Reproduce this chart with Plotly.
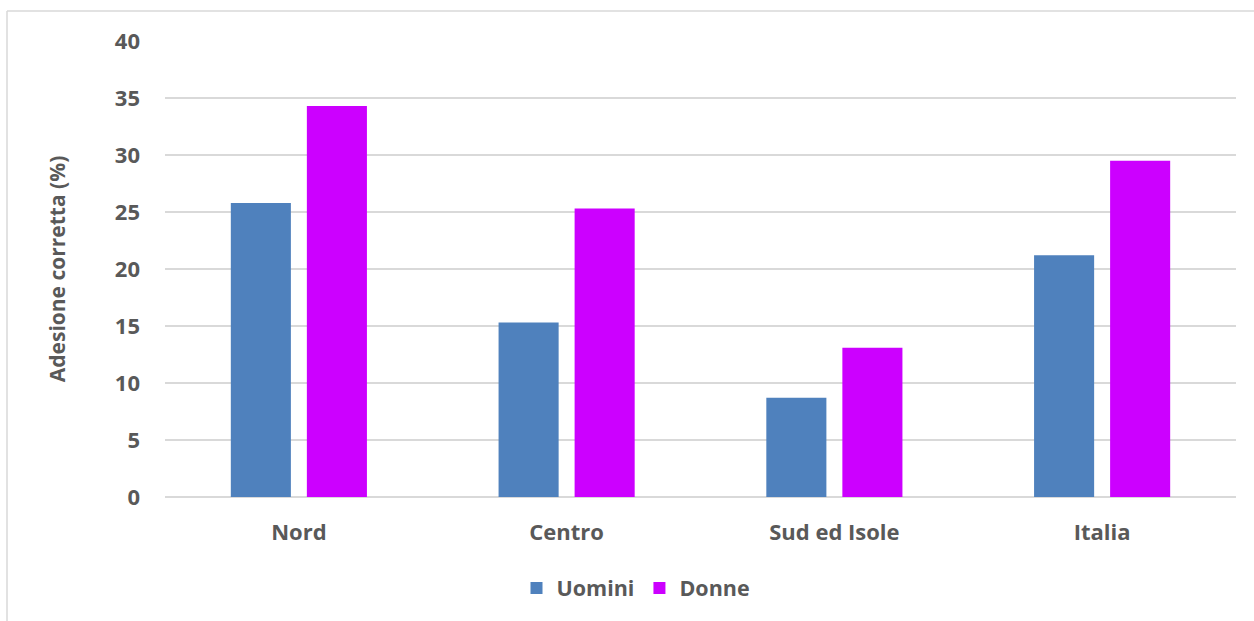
import plotly.graph_objects as go

regions = ["Nord", "Centro", "Sud ed Isole", "Italia"]
uomini = [25.8, 15.3, 8.7, 21.2]
donne = [34.3, 25.3, 13.1, 29.5]
y_ticks = [0, 5, 10, 15, 20, 25, 30, 35, 40]

W, H = 1254, 621
L, R, T, B = 165, 18, 41, 124
pw, ph = W - L - R, H - T - B

def px_x(x):
    return (x - L) / pw

def px_y(y):
    return (H - B - y) / ph

text_color = "#595959"
font_family = "Open Sans, Liberation Sans, Arial, sans-serif"

fig = go.Figure()
fig.add_trace(go.Bar(name="Uomini", x=regions, y=uomini, marker_color="#4F81BD",
                     marker_line_width=0))
fig.add_trace(go.Bar(name="Donne", x=regions, y=donne, marker_color="#CC00FF",
                     marker_line_width=0))

fig.update_layout(
    width=W, height=H,
    margin=dict(l=L, r=R, t=T, b=B, autoexpand=False),
    paper_bgcolor="white", plot_bgcolor="white",
    barmode="group", bargap=0.432, bargroupgap=0.21,
    font=dict(family=font_family, color=text_color, size=18),
    showlegend=True,
    legend=dict(orientation="h", x=px_x(636), xanchor="center", y=px_y(588), yanchor="middle",
                font=dict(size=21.5, family=font_family, color=text_color, weight="bold"),
                itemwidth=30, traceorder="normal"),
    xaxis=dict(showgrid=False, showline=False, ticks="", ticklabelstandoff=20,
               tickfont=dict(size=22, family=font_family, color=text_color, weight="bold")),
    yaxis=dict(range=[0, 40], tickvals=y_ticks, showgrid=True, gridcolor="#D9D9D9",
               gridwidth=1.5, zeroline=True, zerolinecolor="#D9D9D9", zerolinewidth=1.5,
               showline=False, ticks="", ticklabelstandoff=24,
               tickfont=dict(size=22, family=font_family, color=text_color, weight="bold"),
               title=dict(text="Adesione corretta (%)", standoff=43,
                          font=dict(size=21, family=font_family, color=text_color, weight="bold"))),
)

# outer chart frame (top and left edges)
fig.add_shape(type="line", xref="paper", yref="paper",
              x0=px_x(7), x1=px_x(W + 5), y0=px_y(11), y1=px_y(11),
              line=dict(color="#D9D9D9", width=1.5))
fig.add_shape(type="line", xref="paper", yref="paper",
              x0=px_x(7), x1=px_x(7), y0=px_y(11), y1=px_y(H + 5),
              line=dict(color="#D9D9D9", width=1.5))

fig.write_html("out.html")
